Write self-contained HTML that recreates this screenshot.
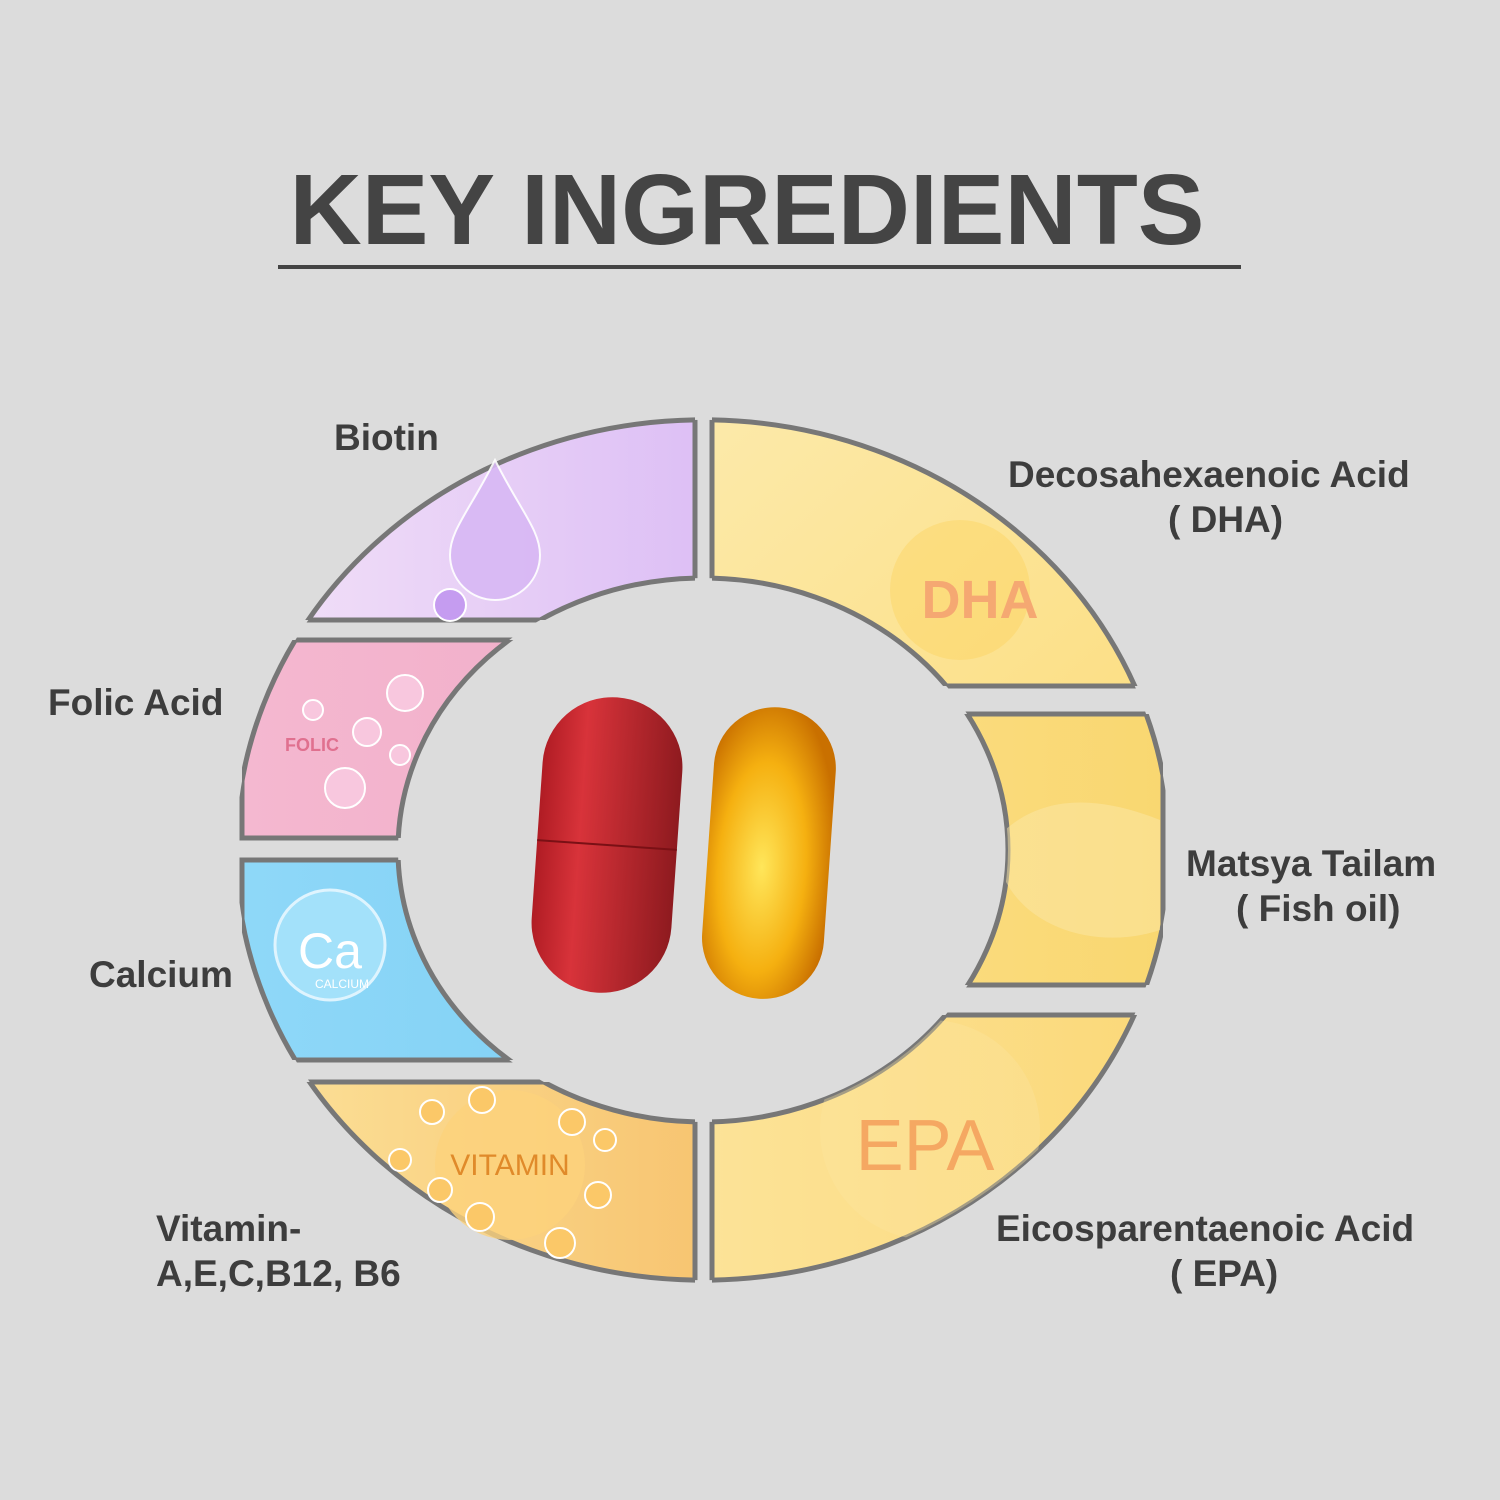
<!DOCTYPE html>
<html><head><meta charset="utf-8"><style>
body{margin:0;width:1500px;height:1500px;background:#dcdcdc;position:relative;overflow:hidden;font-family:"Liberation Sans",sans-serif;color:#3d3d3d}
.t{position:absolute;font-size:37px;font-weight:bold;line-height:45px;white-space:nowrap}
h1{position:absolute;left:0;width:1500px;top:153px;margin:0;text-align:center;font-size:100px;font-weight:bold;color:#444}
.ul{position:absolute;left:278px;top:265px;width:963px;height:4px;background:#444}
</style></head><body>
<h1 style="left:-3px">KEY INGREDIENTS</h1>
<div class="ul"></div>
<svg width="1500" height="1500" style="position:absolute;left:0;top:0">
<defs>
<path id="ann" fill-rule="evenodd" clip-rule="evenodd" d="M236,850 a467,430 0 1,0 934,0 a467,430 0 1,0 -934,0 Z M398,850 a305,272 0 1,0 610,0 a305,272 0 1,0 -610,0 Z"/>
<clipPath id="cA"><use href="#ann" clip-rule="evenodd"/></clipPath>
<clipPath id="c1"><rect x="0" y="0" width="695" height="620"/></clipPath>
<clipPath id="c2"><rect x="712" y="0" width="800" height="686"/></clipPath>
<clipPath id="c3"><rect x="242" y="640" width="453" height="198"/></clipPath>
<clipPath id="c4"><rect x="242" y="860" width="453" height="200"/></clipPath>
<clipPath id="c5"><rect x="0" y="1082" width="695" height="420"/></clipPath>
<clipPath id="c6"><rect x="712" y="714" width="451" height="271"/></clipPath>
<clipPath id="c7"><rect x="712" y="1015" width="800" height="500"/></clipPath>
<linearGradient id="g1" x1="0" x2="1"><stop offset="0" stop-color="#f3e2f8"/><stop offset="1" stop-color="#c79cf2"/></linearGradient>
<linearGradient id="g2" x1="0" x2="1" y1="0" y2="1"><stop offset="0" stop-color="#fdf0c0"/><stop offset="1" stop-color="#fbd666"/></linearGradient>
<linearGradient id="g3" x1="0" x2="1"><stop offset="0" stop-color="#f4b8d0"/><stop offset="1" stop-color="#eea0bf"/></linearGradient>
<linearGradient id="g4" x1="0" x2="1"><stop offset="0" stop-color="#8fd8f8"/><stop offset="1" stop-color="#6cc6f0"/></linearGradient>
<linearGradient id="g5" x1="0" x2="1"><stop offset="0" stop-color="#fce29a"/><stop offset="1" stop-color="#f2a748"/></linearGradient>
<linearGradient id="g6" x1="0" x2="1"><stop offset="0" stop-color="#fde9a8"/><stop offset="1" stop-color="#f9d770"/></linearGradient>
<linearGradient id="g7" x1="0" x2="1"><stop offset="0" stop-color="#fdeeb8"/><stop offset="1" stop-color="#fbd878"/></linearGradient>
<linearGradient id="red" x1="0" x2="1"><stop offset="0" stop-color="#b01c24"/><stop offset="0.3" stop-color="#d8333a"/><stop offset="1" stop-color="#8e1a1f"/></linearGradient>
<radialGradient id="gold" cx="0.45" cy="0.55" r="0.6"><stop offset="0" stop-color="#ffe65a"/><stop offset="0.6" stop-color="#f5b010"/><stop offset="1" stop-color="#c97000"/></radialGradient>
</defs>
<g clip-path="url(#c1)"><use href="#ann" fill="url(#g1)" stroke="#777" stroke-width="5"/></g>
<g clip-path="url(#c2)"><use href="#ann" fill="url(#g2)" stroke="#777" stroke-width="5"/></g>
<g clip-path="url(#c3)"><use href="#ann" fill="url(#g3)" stroke="#777" stroke-width="5"/></g>
<g clip-path="url(#c4)"><use href="#ann" fill="url(#g4)" stroke="#777" stroke-width="5"/></g>
<g clip-path="url(#c5)"><use href="#ann" fill="url(#g5)" stroke="#777" stroke-width="5"/></g>
<g clip-path="url(#c6)"><use href="#ann" fill="url(#g6)" stroke="#777" stroke-width="5"/></g>
<g clip-path="url(#c7)"><use href="#ann" fill="url(#g7)" stroke="#777" stroke-width="5"/></g>
<g clip-path="url(#cA)">
<circle cx="960" cy="590" r="70" fill="#fcd35a" opacity="0.4"/>
<circle cx="930" cy="1130" r="110" fill="#fde6a0" opacity="0.35"/>
<path d="M1005,830 C1050,790 1110,800 1160,820 L1160,930 C1100,950 1030,930 1005,880Z" fill="#fbe7a8" opacity="0.5"/>
<g fill="none" stroke="#777" stroke-width="5">
<rect x="0" y="0" width="695" height="620"/>
<rect x="712" y="0" width="800" height="686"/>
<rect x="242" y="640" width="453" height="198"/>
<rect x="242" y="860" width="453" height="200"/>
<rect x="0" y="1082" width="695" height="420"/>
<rect x="712" y="714" width="451" height="271"/>
<rect x="712" y="1015" width="800" height="500"/>
</g></g>
<path d="M495,460 C470,510 450,530 450,555 a45,45 0 0,0 90,0 C540,530 520,510 495,460Z" fill="#d8b8f4" stroke="#fff" stroke-width="2" opacity="0.9"/>
<circle cx="450" cy="605" r="16" fill="#c59cf0" stroke="#fff" stroke-width="2"/>
<text x="980" y="618" font-size="54" font-weight="bold" fill="#f5a872" text-anchor="middle">DHA</text>
<g fill="#f8c7de" stroke="#fff" stroke-width="2"><circle cx="405" cy="693" r="18"/><circle cx="367" cy="732" r="14"/><circle cx="345" cy="788" r="20"/><circle cx="400" cy="755" r="10"/><circle cx="313" cy="710" r="10"/></g>
<text x="285" y="751" font-size="18" fill="#e0708f" font-weight="bold">FOLIC</text>
<circle cx="330" cy="945" r="55" fill="#a6e3fb" stroke="#e8f8ff" stroke-width="3" opacity="0.9"/>
<text x="330" y="968" font-size="50" fill="#fff" text-anchor="middle">Ca</text>
<text x="342" y="988" font-size="12" fill="#fff" text-anchor="middle">CALCIUM</text>
<circle cx="510" cy="1165" r="75" fill="#fcd27c" opacity="0.8"/>
<text x="510" y="1175" font-size="30" fill="#e08a2a" text-anchor="middle">VITAMIN</text>
<g fill="#fbc868" stroke="#fff" stroke-width="2"><circle cx="482" cy="1100" r="13"/><circle cx="432" cy="1112" r="12"/><circle cx="572" cy="1122" r="13"/><circle cx="605" cy="1140" r="11"/><circle cx="400" cy="1160" r="11"/><circle cx="440" cy="1190" r="12"/><circle cx="598" cy="1195" r="13"/><circle cx="480" cy="1217" r="14"/><circle cx="560" cy="1243" r="15"/></g>
<text x="925" y="1170" font-size="72" fill="#f5a862" text-anchor="middle">EPA</text>
<g transform="rotate(4 607 845)"><rect x="537" y="697" width="140" height="296" rx="70" fill="url(#red)"/><line x1="537" y1="845" x2="677" y2="845" stroke="#7a1015" stroke-width="2"/></g>
<g transform="rotate(4 768 852)"><rect x="708" y="707" width="122" height="292" rx="61" fill="url(#gold)"/></g>
</svg>
<div class="t" style="left:334px;top:415px">Biotin</div>
<div class="t" style="left:1008px;top:452px">Decosahexaenoic Acid</div>
<div class="t" style="left:1168px;top:497px">( DHA)</div>
<div class="t" style="left:48px;top:680px">Folic Acid</div>
<div class="t" style="left:1186px;top:841px">Matsya Tailam</div>
<div class="t" style="left:1236px;top:886px">( Fish oil)</div>
<div class="t" style="left:89px;top:952px">Calcium</div>
<div class="t" style="left:156px;top:1206px">Vitamin-</div>
<div class="t" style="left:156px;top:1251px">A,E,C,B12, B6</div>
<div class="t" style="left:996px;top:1206px">Eicosparentaenoic Acid</div>
<div class="t" style="left:1170px;top:1251px">( EPA)</div>
</body></html>
